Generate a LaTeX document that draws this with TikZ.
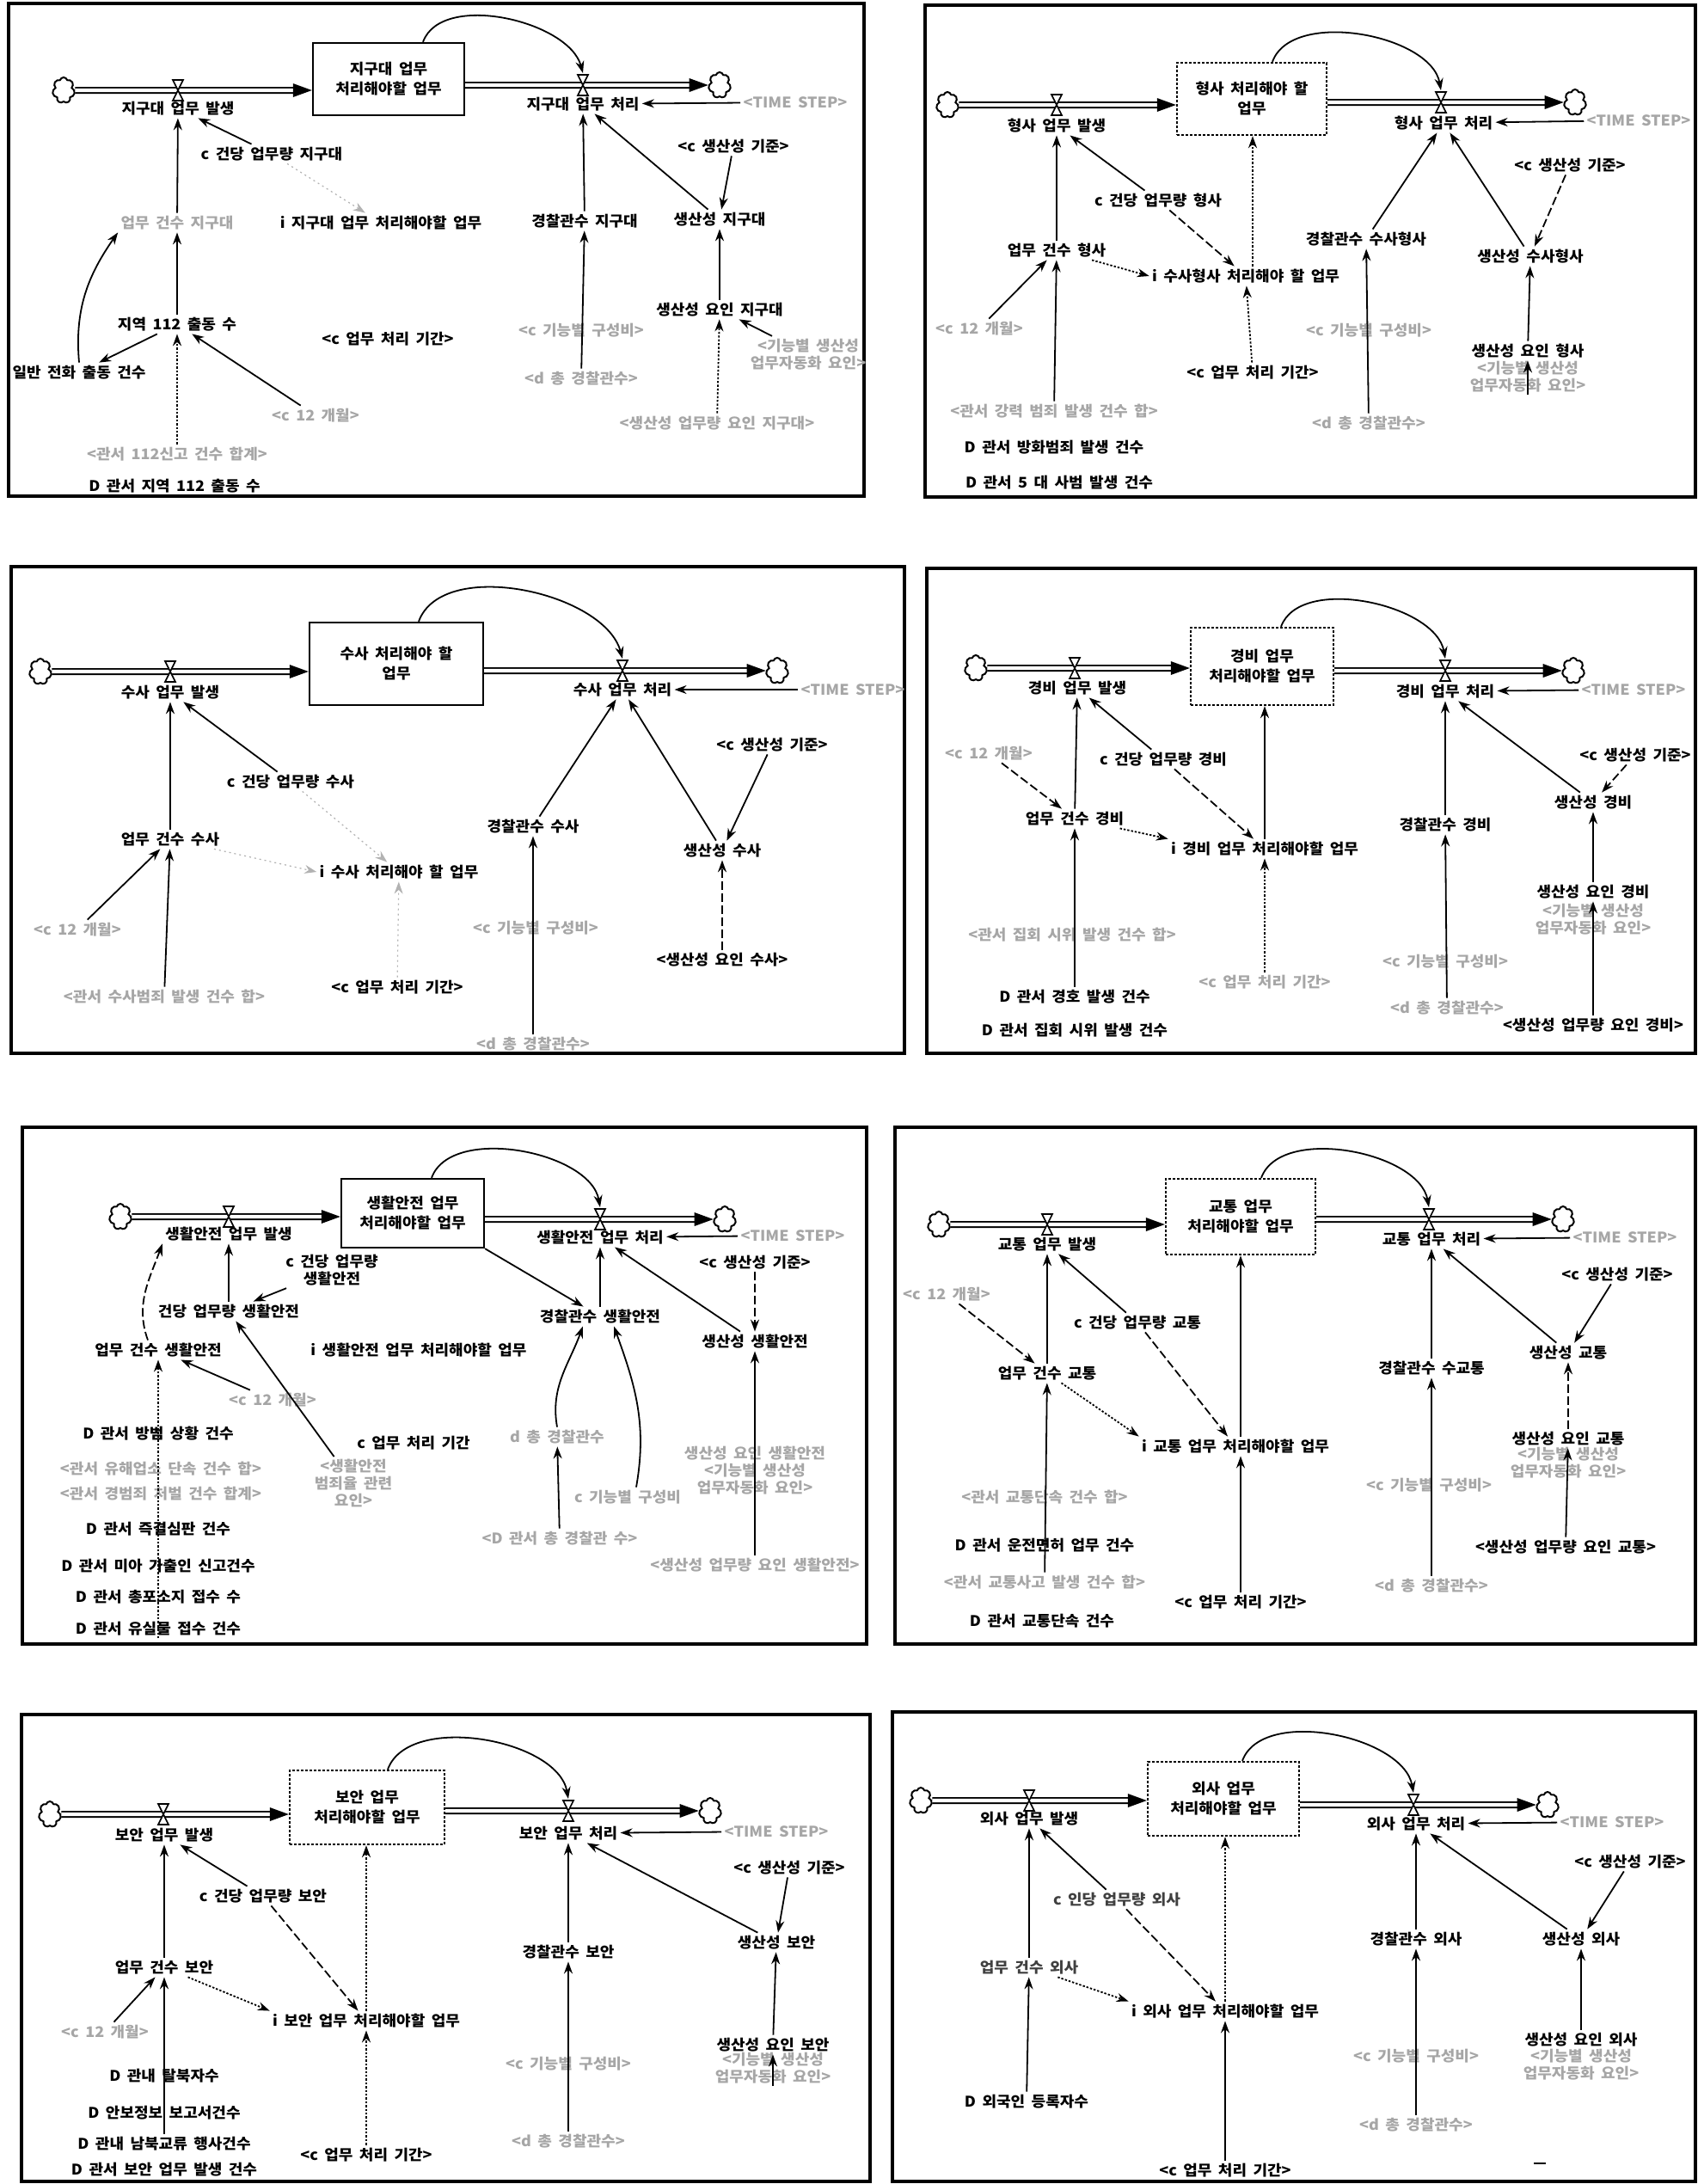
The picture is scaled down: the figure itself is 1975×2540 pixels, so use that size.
\documentclass[tikz,border=0pt]{standalone}
\usepackage{fontspec}
\setmainfont{Noto Sans CJK KR}[FakeStretch=1.06,WordSpace=1.8]
\usetikzlibrary{arrows.meta,shapes.symbols}
\tikzset{
 lbl/.style={font=\fontsize{8.5}{9.8}\selectfont\bfseries, inner sep=1.5pt, align=center, text=black},
 glbl/.style={lbl, text=black!35},
 link/.style={draw=black, line width=0.9pt, -{Stealth[length=7pt,width=5pt]}},
 dlink/.style={link, dash pattern=on 5pt off 2pt},
 olink/.style={link, dash pattern=on 1.2pt off 1pt},
 flink/.style={link, draw=black!30, line width=0.6pt, dash pattern=on 1pt off 2pt},
 pipe/.style={draw=black, double=white, double distance=2.2pt, line width=0.9pt},
 stockbox/.style={draw=black, line width=1.2pt, align=center, inner sep=0pt, font=\fontsize{8.5}{11.5}\selectfont\bfseries},
 stockdot/.style={stockbox, dash pattern=on 1.5pt off 1pt},
 cloudn/.style={cloud, cloud puffs=7, draw=black, line width=1pt, minimum width=13pt, minimum height=15pt, inner sep=0pt, aspect=0.9},
 panelframe/.style={draw=black, line width=1.6pt},
 valve/.pic={\draw[line width=0.8pt, fill=white] (-6,-12) -- (6,-12) -- (-6,12) -- (6,12) -- cycle;},
 ptip/.pic={\fill (0,0) -- (-22,-8) -- (-22,8) -- cycle;},
}
\begin{document}
\begin{tikzpicture}[x=0.5pt,y=-0.5pt]
\useasboundingbox (0,0) rectangle (1975,2540);
\fill[white] (0,0) rectangle (1975,2540);

% ================= Panel A =================
\draw[panelframe] (10,4) rectangle (1005,577);
\node[cloudn] (A-src) at (74,105) {};
\node[stockbox, minimum width=88pt, minimum height=42pt] (A-stk) at (452,92) {지구대 업무\\처리해야할 업무};
\node[cloudn] (A-snk) at (837,99) {};
\coordinate (A-v1) at (207,105);
\coordinate (A-v2) at (678,99);
\draw[pipe, shorten >=10pt] (A-src) -- (A-src -| A-stk.west);
\pic at (A-src -| A-stk.west) {ptip};
\draw[pipe, shorten >=10pt] (A-stk.east |- A-snk) -- (A-snk.west);
\pic at (A-snk.west) {ptip};
\pic at (A-v1) {valve};
\pic at (A-v2) {valve};
\draw[link] ([xshift=20pt]A-stk.north) to[out=70,in=105,looseness=0.85] ([yshift=7pt]A-v2);
\node[lbl] (A-in) at (207,126) {지구대 업무 발생};
\node[lbl] (A-out) at (678,121) {지구대 업무 처리};
\node[glbl] (A-ts) at (925,119) {<TIME STEP>};
\node[lbl] (A-c) at (316,179) {c 건당 업무량 지구대};
\node[glbl] (A-n) at (206,259) {업무 건수 지구대};
\node[lbl] (A-i) at (443,259) {i 지구대 업무 처리해야할 업무};
\node[lbl] (A-112) at (206,377) {지역 112 출동 수};
\node[lbl] (A-pd) at (451,394) {<c 업무 처리 기간>};
\node[lbl] (A-tel) at (92,433) {일반 전화 출동 건수};
\node[glbl] (A-m12) at (367,483) {<c 12 개월>};
\node[glbl] (A-sum) at (206,528) {<관서 112신고 건수 합계>};
\node[lbl] (A-D) at (203,565) {D 관서 지역 112 출동 수};
\node[lbl] (A-pol) at (680,257) {경찰관수 지구대};
\node[lbl] (A-std) at (853,170) {<c 생산성 기준>};
\node[lbl] (A-prod) at (837,255) {생산성 지구대};
\node[lbl] (A-pf) at (837,360) {생산성 요인 지구대};
\node[glbl] (A-fr) at (676,384) {<c 기능별 구성비>};
\node[glbl] (A-tot) at (676,440) {<d 총 경찰관수>};
\node[glbl] (A-pw) at (834,492) {<생산성 업무량 요인 지구대>};
\node[glbl] (A-auto) at (940,412) {<기능별 생산성\\업무자동화 요인>};
\draw[link] (A-c) -- (A-in);
\draw[link] (A-n) -- (A-in);
\draw[link] (A-112) -- (A-n);
\draw[link] (A-112) -- (A-tel);
\draw[link] (A-tel.north) to[out=95,in=235] (A-n.south west);
\draw[link] (A-m12) -- (A-112);
\draw[olink] (A-sum) -- (A-112);
\draw[flink] (A-c) -- (A-i);
\draw[link] (A-ts) -- (A-out);
\draw[link] (A-pol) -- (A-out);
\draw[link] (A-tot) -- (A-pol);
\draw[link] (A-std) -- (A-prod);
\draw[link] (A-prod) -- (A-out);
\draw[link] (A-pf) -- (A-prod);
\draw[olink] (A-pw) -- (A-pf);
\draw[link] (A-auto) -- (A-pf);

% ================= Panel B =================
\draw[panelframe] (1076,6) rectangle (1972,578);
\node[cloudn] (B-src) at (1102,122) {};
\node[stockdot, minimum width=87pt, minimum height=42pt] (B-stk) at (1456,115) {형사 처리해야 할\\업무};
\node[cloudn] (B-snk) at (1832,119) {};
\coordinate (B-v1) at (1229,122);
\coordinate (B-v2) at (1676,119);
\draw[pipe, shorten >=10pt] (B-src) -- (B-src -| B-stk.west);
\pic at (B-src -| B-stk.west) {ptip};
\draw[pipe, shorten >=10pt] (B-stk.east |- B-snk) -- (B-snk.west);
\pic at (B-snk.west) {ptip};
\pic at (B-v1) {valve};
\pic at (B-v2) {valve};
\draw[link] ([xshift=12pt]B-stk.north) to[out=70,in=100,looseness=0.85] ([yshift=7pt]B-v2);
\node[lbl] (B-in) at (1229,146) {형사 업무 발생};
\node[lbl] (B-out) at (1679,143) {형사 업무 처리};
\node[glbl] (B-ts) at (1906,140) {<TIME STEP>};
\node[lbl] (B-c) at (1347,233) {c 건당 업무량 형사};
\node[lbl] (B-n) at (1229,291) {업무 건수 형사};
\node[lbl] (B-i) at (1449,321) {i 수사형사 처리해야 할 업무};
\node[glbl] (B-m12) at (1139,382) {<c 12 개월>};
\node[lbl] (B-pd) at (1457,433) {<c 업무 처리 기간>};
\node[glbl] (B-sum) at (1226,478) {<관서 강력 범죄 발생 건수 합>};
\node[lbl] (B-D1) at (1226,520) {D 관서 방화범죄 발생 건수};
\node[lbl] (B-D2) at (1232,561) {D 관서 5 대 사범 발생 건수};
\node[lbl] (B-pol) at (1589,278) {경찰관수 수사형사};
\node[glbl] (B-fr) at (1592,384) {<c 기능별 구성비>};
\node[glbl] (B-tot) at (1592,492) {<d 총 경찰관수>};
\node[lbl] (B-std) at (1826,192) {<c 생산성 기준>};
\node[lbl] (B-prod) at (1780,298) {생산성 수사형사};
\node[lbl] (B-pf) at (1777,408) {생산성 요인 형사};
\node[glbl] (B-auto) at (1777,438) {<기능별 생산성\\업무자동화 요인>};
\draw[link] (B-c) -- (B-in);
\draw[dlink] (B-c) -- (B-i);
\draw[link] (B-n) -- (B-in);
\draw[olink] (B-n) -- (B-i.west);
\draw[link] (B-m12) -- (B-n);
\draw[link] (B-sum) -- (B-n);
\draw[olink] (B-pd) -- (B-i);
\draw[olink] (B-i.north -| B-pd) -- (B-pd |- B-stk.south);
\draw[link] (B-ts) -- (B-out);
\draw[link] (B-pol) -- (B-out);
\draw[link] (B-tot) -- (B-pol);
\draw[dlink] (B-std) -- (B-prod);
\draw[link] (B-prod) -- (B-out);
\draw[link] (B-pf) -- (B-prod);
\draw[link] (B-auto.south) -- (B-pf.south);

% ================= Panel C =================
\draw[panelframe] (13,659) rectangle (1052,1225);
\node[cloudn] (C-src) at (47,781) {};
\node[stockbox, minimum width=101pt, minimum height=48pt] (C-stk) at (461,772) {수사 처리해야 할\\업무};
\node[cloudn] (C-snk) at (904,780) {};
\coordinate (C-v1) at (198,781);
\coordinate (C-v2) at (724,780);
\draw[pipe, shorten >=10pt] (C-src) -- (C-src -| C-stk.west);
\pic at (C-src -| C-stk.west) {ptip};
\draw[pipe, shorten >=10pt] (C-stk.east |- C-snk) -- (C-snk.west);
\pic at (C-snk.west) {ptip};
\pic at (C-v1) {valve};
\pic at (C-v2) {valve};
\draw[link] ([xshift=13pt]C-stk.north) to[out=70,in=105,looseness=0.85] ([yshift=7pt]C-v2);
\node[lbl] (C-in) at (198,805) {수사 업무 발생};
\node[lbl] (C-out) at (724,802) {수사 업무 처리};
\node[glbl] (C-ts) at (992,802) {<TIME STEP>};
\node[lbl] (C-c) at (338,909) {c 건당 업무량 수사};
\node[lbl] (C-n) at (198,976) {업무 건수 수사};
\node[lbl] (C-i) at (464,1014) {i 수사 처리해야 할 업무};
\node[glbl] (C-m12) at (90,1081) {<c 12 개월>};
\node[glbl] (C-sum) at (191,1159) {<관서 수사범죄 발생 건수 합>};
\node[lbl] (C-pd) at (462,1148) {<c 업무 처리 기간>};
\node[lbl] (C-pol) at (620,961) {경찰관수 수사};
\node[glbl] (C-fr) at (623,1079) {<c 기능별 구성비>};
\node[glbl] (C-tot) at (620,1214) {<d 총 경찰관수>};
\node[lbl] (C-std) at (898,866) {<c 생산성 기준>};
\node[lbl] (C-prod) at (840,989) {생산성 수사};
\node[lbl] (C-pf) at (840,1116) {<생산성 요인 수사>};
\draw[link] (C-c) -- (C-in);
\draw[link] (C-n) -- (C-in);
\draw[link] (C-m12) -- (C-n);
\draw[link] (C-sum) -- (C-n);
\draw[flink] (C-c) -- (C-i);
\draw[flink] (C-n) -- (C-i.west);
\draw[flink] (C-pd) -- (C-i);
\draw[link] (C-ts) -- (C-out);
\draw[link] (C-pol) -- (C-out);
\draw[link] (C-tot) -- (C-pol);
\draw[link] (C-std) -- (C-prod);
\draw[link] (C-prod) -- (C-out);
\draw[dlink] (C-pf) -- (C-prod);

% ================= Panel D =================
\draw[panelframe] (1078,661) rectangle (1972,1225);
\node[cloudn] (D-src) at (1135,777) {};
\node[stockdot, minimum width=83pt, minimum height=45pt] (D-stk) at (1468,775) {경비 업무\\처리해야할 업무};
\node[cloudn] (D-snk) at (1830,780) {};
\coordinate (D-v1) at (1250,777);
\coordinate (D-v2) at (1681,780);
\draw[pipe, shorten >=10pt] (D-src) -- (D-src -| D-stk.west);
\pic at (D-src -| D-stk.west) {ptip};
\draw[pipe, shorten >=10pt] (D-stk.east |- D-snk) -- (D-snk.west);
\pic at (D-snk.west) {ptip};
\pic at (D-v1) {valve};
\pic at (D-v2) {valve};
\draw[link] ([xshift=11pt]D-stk.north) to[out=70,in=100,looseness=0.85] ([yshift=7pt]D-v2);
\node[lbl] (D-in) at (1253,800) {경비 업무 발생};
\node[lbl] (D-out) at (1681,804) {경비 업무 처리};
\node[glbl] (D-ts) at (1900,802) {<TIME STEP>};
\node[lbl] (D-c) at (1353,883) {c 건당 업무량 경비};
\node[glbl] (D-m12) at (1150,876) {<c 12 개월>};
\node[lbl] (D-n) at (1250,952) {업무 건수 경비};
\node[lbl] (D-i) at (1471,987) {i 경비 업무 처리해야할 업무};
\node[glbl] (D-sum) at (1247,1087) {<관서 집회 시위 발생 건수 합>};
\node[glbl] (D-pd) at (1471,1142) {<c 업무 처리 기간>};
\node[lbl] (D-D1) at (1250,1159) {D 관서 경호 발생 건수};
\node[lbl] (D-D2) at (1250,1198) {D 관서 집회 시위 발생 건수};
\node[lbl] (D-pol) at (1681,959) {경찰관수 경비};
\node[glbl] (D-fr) at (1681,1118) {<c 기능별 구성비>};
\node[glbl] (D-tot) at (1683,1172) {<d 총 경찰관수>};
\node[lbl] (D-std) at (1902,878) {<c 생산성 기준>};
\node[lbl] (D-prod) at (1853,933) {생산성 경비};
\node[lbl] (D-pf) at (1853,1037) {생산성 요인 경비};
\node[glbl] (D-auto) at (1853,1069) {<기능별 생산성\\업무자동화 요인>};
\node[lbl] (D-pw) at (1853,1192) {<생산성 업무량 요인 경비>};
\draw[link] (D-c) -- (D-in);
\draw[dlink] (D-c) -- (D-i);
\draw[dlink] (D-m12) -- (D-n);
\draw[link] (D-n) -- (D-in);
\draw[olink] (D-n) -- (D-i.north west);
\draw[link] (D-i.north -| D-pd) -- (D-pd |- D-stk.south);
\draw[olink] (D-pd) -- (D-i.south -| D-pd);
\draw[link] (D-D1) -- (D-n);
\draw[link] (D-ts) -- (D-out);
\draw[link] (D-pol) -- (D-out);
\draw[link] (D-tot) -- (D-pol);
\draw[dlink] (D-std) -- (D-prod);
\draw[link] (D-prod) -- (D-out);
\draw[link] (D-pf) -- (D-prod);
\draw[link] (D-pw) -- (D-pf);

% ================= Panel E =================
\draw[panelframe] (26,1311) rectangle (1008,1912);
\node[cloudn] (E-src) at (140,1415) {};
\node[stockbox, minimum width=83pt, minimum height=40pt] (E-stk) at (480,1411) {생활안전 업무\\처리해야할 업무};
\node[cloudn] (E-snk) at (843,1418) {};
\coordinate (E-v1) at (266,1415);
\coordinate (E-v2) at (698,1418);
\draw[pipe, shorten >=10pt] (E-src) -- (E-src -| E-stk.west);
\pic at (E-src -| E-stk.west) {ptip};
\draw[pipe, shorten >=10pt] (E-stk.east |- E-snk) -- (E-snk.west);
\pic at (E-snk.west) {ptip};
\pic at (E-v1) {valve};
\pic at (E-v2) {valve};
\draw[link] ([xshift=11pt]E-stk.north) to[out=70,in=100,looseness=0.85] ([yshift=7pt]E-v2);
\node[lbl] (E-in) at (266,1435) {생활안전 업무 발생};
\node[lbl] (E-out) at (698,1439) {생활안전 업무 처리};
\node[glbl] (E-ts) at (922,1437) {<TIME STEP>};
\node[lbl] (E-c) at (386,1477) {c 건당 업무량\\생활안전};
\node[lbl] (E-pw) at (266,1525) {건당 업무량 생활안전};
\node[lbl] (E-n) at (184,1570) {업무 건수 생활안전};
\node[lbl] (E-i) at (487,1570) {i 생활안전 업무 처리해야할 업무};
\node[lbl] (E-pol) at (698,1531) {경찰관수 생활안전};
\node[lbl] (E-std) at (878,1468) {<c 생산성 기준>};
\node[lbl] (E-prod) at (878,1560) {생산성 생활안전};
\node[glbl] (E-m12) at (317,1628) {<c 12 개월>};
\node[lbl] (E-pd) at (481,1678) {c 업무 처리 기간};
\node[glbl] (E-ext) at (411,1725) {<생활안전\\범죄율 관련\\요인>};
\node[lbl] (E-D1) at (184,1667) {D 관서 방범 상황 건수};
\node[glbl] (E-g1) at (187,1708) {<관서 유해업소 단속 건수 합>};
\node[glbl] (E-g2) at (187,1737) {<관서 경범죄 처벌 건수 합계>};
\node[lbl] (E-D2) at (184,1778) {D 관서 즉결심판 건수};
\node[lbl] (E-D3) at (184,1821) {D 관서 미아 가출인 신고건수};
\node[lbl] (E-D4) at (184,1857) {D 관서 총포소지 접수 수};
\node[lbl] (E-D5) at (184,1894) {D 관서 유실물 접수 건수};
\node[glbl] (E-tot) at (648,1671) {d 총 경찰관수};
\node[glbl] (E-fr) at (730,1741) {c 기능별 구성비};
\node[glbl] (E-dtot) at (651,1789) {<D 관서 총 경찰관 수>};
\node[glbl] (E-auto) at (878,1710) {생산성 요인 생활안전\\<기능별 생산성\\업무자동화 요인>};
\node[glbl] (E-pwf) at (878,1820) {<생산성 업무량 요인 생활안전>};
\draw[link] (E-c) -- (E-pw);
\draw[link] (E-pw) -- (E-in);
\draw[dlink] ([xshift=-6pt]E-n.north) to[out=110,in=250] (E-in.south west);
\draw[link] (E-m12) -- (E-n);
\draw[olink] (E-D5.south) -- (E-n);
\draw[link] (E-ext) -- (E-pw);
\draw[link] (E-stk.south east) -- (E-pol);
\draw[link] (E-pol) -- (E-out);
\draw[link] (E-ts) -- (E-out);
\draw[dlink] (E-std) -- (E-prod);
\draw[link] (E-prod) -- (E-out);
\draw[link] (E-tot.north) to[out=100,in=250] ([xshift=-10pt]E-pol.south);
\draw[link] ([xshift=5pt]E-fr.north) to[out=80,in=290] ([xshift=8pt]E-pol.south);
\draw[link] (E-dtot) -- (E-tot);
\draw[link] (E-pwf) -- (E-prod);

% ================= Panel F =================
\draw[panelframe] (1041,1311) rectangle (1972,1912);
\node[cloudn] (F-src) at (1092,1424) {};
\node[stockdot, minimum width=87pt, minimum height=44pt] (F-stk) at (1443,1415) {교통 업무\\처리해야할 업무};
\node[cloudn] (F-snk) at (1818,1418) {};
\coordinate (F-v1) at (1218,1424);
\coordinate (F-v2) at (1662,1418);
\draw[pipe, shorten >=10pt] (F-src) -- (F-src -| F-stk.west);
\pic at (F-src -| F-stk.west) {ptip};
\draw[pipe, shorten >=10pt] (F-stk.east |- F-snk) -- (F-snk.west);
\pic at (F-snk.west) {ptip};
\pic at (F-v1) {valve};
\pic at (F-v2) {valve};
\draw[link] ([xshift=12pt]F-stk.north) to[out=70,in=100,looseness=0.85] ([yshift=7pt]F-v2);
\node[lbl] (F-in) at (1218,1447) {교통 업무 발생};
\node[lbl] (F-out) at (1665,1441) {교통 업무 처리};
\node[glbl] (F-ts) at (1890,1439) {<TIME STEP>};
\node[glbl] (F-m12) at (1101,1505) {<c 12 개월>};
\node[lbl] (F-c) at (1323,1538) {c 건당 업무량 교통};
\node[lbl] (F-n) at (1218,1597) {업무 건수 교통};
\node[lbl] (F-i) at (1437,1682) {i 교통 업무 처리해야할 업무};
\node[glbl] (F-g1) at (1215,1741) {<관서 교통단속 건수 합>};
\node[lbl] (F-D1) at (1215,1797) {D 관서 운전면허 업무 건수};
\node[glbl] (F-g2) at (1215,1840) {<관서 교통사고 발생 건수 합>};
\node[lbl] (F-D2) at (1212,1885) {D 관서 교통단속 건수};
\node[lbl] (F-pd) at (1443,1863) {<c 업무 처리 기간>};
\node[lbl] (F-pol) at (1665,1591) {경찰관수 수교통};
\node[glbl] (F-fr) at (1662,1727) {<c 기능별 구성비>};
\node[glbl] (F-tot) at (1665,1844) {<d 총 경찰관수>};
\node[lbl] (F-std) at (1881,1482) {<c 생산성 기준>};
\node[lbl] (F-prod) at (1824,1573) {생산성 교통};
\node[lbl] (F-pf) at (1824,1673) {생산성 요인 교통};
\node[glbl] (F-auto) at (1824,1701) {<기능별 생산성\\업무자동화 요인>};
\node[lbl] (F-pw) at (1821,1799) {<생산성 업무량 요인 교통>};
\draw[dlink] (F-m12) -- (F-n);
\draw[link] (F-c) -- (F-in);
\draw[dlink] (F-c) -- (F-i);
\draw[link] (F-n) -- (F-in);
\draw[olink] (F-n) -- (F-i.north west);
\draw[link] (F-g2) -- (F-n);
\draw[link] (F-i.north -| F-pd) -- (F-pd |- F-stk.south);
\draw[link] (F-pd) -- (F-i.south -| F-pd);
\draw[link] (F-ts) -- (F-out);
\draw[link] (F-pol) -- (F-out);
\draw[link] (F-tot) -- (F-pol);
\draw[link] (F-std) -- (F-prod);
\draw[link] (F-prod) -- (F-out);
\draw[link] (F-pw) -- (F-pf);
\draw[dlink] (F-pf) -- (F-prod);

% ================= Panel G =================
\draw[panelframe] (25,1994) rectangle (1012,2537);
\node[cloudn] (G-src) at (58,2110) {};
\node[stockdot, minimum width=90pt, minimum height=43pt] (G-stk) at (427,2102) {보안 업무\\처리해야할 업무};
\node[cloudn] (G-snk) at (826,2106) {};
\coordinate (G-v1) at (190,2110);
\coordinate (G-v2) at (661,2106);
\draw[pipe, shorten >=10pt] (G-src) -- (G-src -| G-stk.west);
\pic at (G-src -| G-stk.west) {ptip};
\draw[pipe, shorten >=10pt] (G-stk.east |- G-snk) -- (G-snk.west);
\pic at (G-snk.west) {ptip};
\pic at (G-v1) {valve};
\pic at (G-v2) {valve};
\draw[link] ([xshift=12pt]G-stk.north) to[out=70,in=100,looseness=0.85] ([yshift=7pt]G-v2);
\node[lbl] (G-in) at (191,2134) {보안 업무 발생};
\node[lbl] (G-out) at (661,2132) {보안 업무 처리};
\node[glbl] (G-ts) at (903,2130) {<TIME STEP>};
\node[lbl] (G-c) at (306,2205) {c 건당 업무량 보안};
\node[lbl] (G-n) at (191,2288) {업무 건수 보안};
\node[lbl] (G-i) at (426,2350) {i 보안 업무 처리해야할 업무};
\node[glbl] (G-m12) at (122,2363) {<c 12 개월>};
\node[lbl] (G-D1) at (191,2414) {D 관내 탈북자수};
\node[lbl] (G-D2) at (191,2457) {D 안보정보 보고서건수};
\node[lbl] (G-D3) at (191,2493) {D 관내 남북교류 행사건수};
\node[lbl] (G-D4) at (191,2523) {D 관서 보안 업무 발생 건수};
\node[lbl] (G-pd) at (426,2506) {<c 업무 처리 기간>};
\node[lbl] (G-pol) at (661,2270) {경찰관수 보안};
\node[glbl] (G-fr) at (661,2400) {<c 기능별 구성비>};
\node[glbl] (G-tot) at (661,2490) {<d 총 경찰관수>};
\node[lbl] (G-std) at (918,2172) {<c 생산성 기준>};
\node[lbl] (G-prod) at (903,2259) {생산성 보안};
\node[lbl] (G-pf) at (899,2378) {생산성 요인 보안};
\node[glbl] (G-auto) at (899,2405) {<기능별 생산성\\업무자동화 요인>};
\draw[link] (G-c) -- (G-in);
\draw[dlink] (G-c) -- (G-i);
\draw[link] (G-n) -- (G-in);
\draw[olink] (G-n) -- (G-i.north west);
\draw[link] (G-m12) -- (G-n);
\draw[link] (G-D3) -- (G-n);
\draw[olink] (G-i.north -| G-pd) -- (G-pd |- G-stk.south);
\draw[olink] (G-pd) -- (G-i.south -| G-pd);
\draw[link] (G-ts) -- (G-out);
\draw[link] (G-pol) -- (G-out);
\draw[link] (G-tot) -- (G-pol);
\draw[link] (G-std) -- (G-prod);
\draw[link] (G-prod) -- (G-out);
\draw[link] (G-pf) -- (G-prod);
\draw[link] (G-auto.south) -- (G-pf.south);

% ================= Panel H =================
\draw[panelframe] (1038,1991) rectangle (1972,2537);
\node[cloudn] (H-src) at (1071,2094) {};
\node[stockdot, minimum width=88pt, minimum height=43pt] (H-stk) at (1423,2092) {외사 업무\\처리해야할 업무};
\node[cloudn] (H-snk) at (1800,2099) {};
\coordinate (H-v1) at (1197,2094);
\coordinate (H-v2) at (1644,2099);
\draw[pipe, shorten >=10pt] (H-src) -- (H-src -| H-stk.west);
\pic at (H-src -| H-stk.west) {ptip};
\draw[pipe, shorten >=10pt] (H-stk.east |- H-snk) -- (H-snk.west);
\pic at (H-snk.west) {ptip};
\pic at (H-v1) {valve};
\pic at (H-v2) {valve};
\draw[link] ([xshift=11pt]H-stk.north) to[out=70,in=100,looseness=0.85] ([yshift=7pt]H-v2);
\node[lbl] (H-in) at (1197,2115) {외사 업무 발생};
\node[lbl] (H-out) at (1647,2121) {외사 업무 처리};
\node[glbl] (H-ts) at (1875,2119) {<TIME STEP>};
\node[lbl, text=black!75] (H-c) at (1299,2209) {c 인당 업무량 외사};
\node[lbl, text=black!75] (H-n) at (1197,2288) {업무 건수 외사};
\node[lbl] (H-i) at (1425,2339) {i 외사 업무 처리해야할 업무};
\node[lbl] (H-D) at (1194,2444) {D 외국인 등록자수};
\node[lbl] (H-pd) at (1425,2524) {<c 업무 처리 기간>};
\node[lbl] (H-pol) at (1647,2255) {경찰관수 외사};
\node[glbl] (H-fr) at (1647,2391) {<c 기능별 구성비>};
\node[glbl] (H-tot) at (1647,2471) {<d 총 경찰관수>};
\node[lbl] (H-std) at (1896,2165) {<c 생산성 기준>};
\node[lbl] (H-prod) at (1839,2255) {생산성 외사};
\node[lbl] (H-pf) at (1839,2372) {생산성 요인 외사};
\node[glbl] (H-auto) at (1839,2401) {<기능별 생산성\\업무자동화 요인>};
\coordinate (H-m1) at (1784,2516);
\coordinate (H-m2) at (1798,2516);
\draw[line width=1.2pt] (H-m1) -- (H-m2);
\draw[link] (H-c) -- (H-in);
\draw[dlink] (H-c) -- (H-i);
\draw[link] (H-n) -- (H-in);
\draw[olink] (H-n) -- (H-i.north west);
\draw[link] (H-D) -- (H-n);
\draw[olink] (H-i.north -| H-pd) -- (H-pd |- H-stk.south);
\draw[link] (H-pd) -- (H-i.south -| H-pd);
\draw[link] (H-ts) -- (H-out);
\draw[link] (H-pol) -- (H-out);
\draw[link] (H-tot) -- (H-pol);
\draw[link] (H-std) -- (H-prod);
\draw[link] (H-prod) -- (H-out);
\draw[link] (H-pf) -- (H-prod);
\end{tikzpicture}
\end{document}
